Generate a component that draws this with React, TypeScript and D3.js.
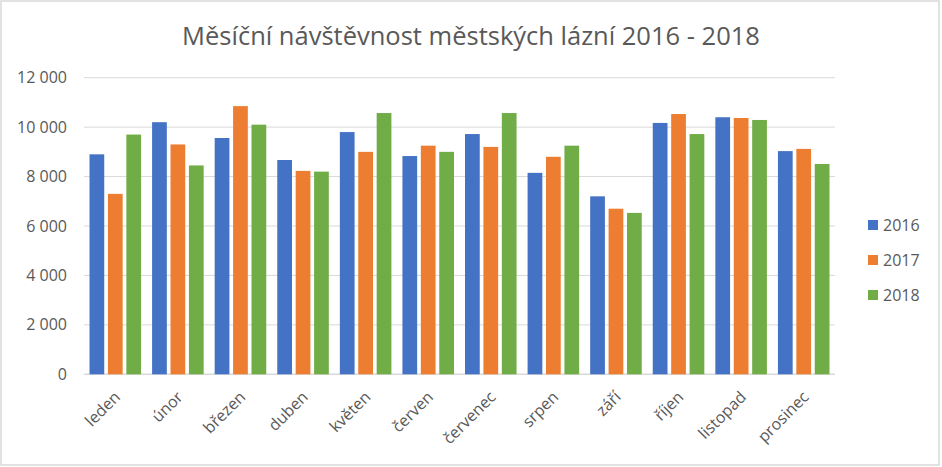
import React from 'react';
import * as d3 from 'd3';

const months = ['leden', 'únor', 'březen', 'duben', 'květen', 'červen', 'červenec', 'srpen', 'září', 'říjen', 'listopad', 'prosinec'];
const years = ['2016', '2017', '2018'];
const visits2016 = [8900, 10200, 9560, 8670, 9800, 8830, 9720, 8150, 7200, 10170, 10400, 9030];
const visits2017 = [7300, 9300, 10850, 8230, 9000, 9250, 9200, 8800, 6700, 10530, 10370, 9120];
const visits2018 = [9700, 8450, 10100, 8200, 10570, 9000, 10570, 9250, 6530, 9720, 10290, 8510];
const yTicks = [0, 2000, 4000, 6000, 8000, 10000, 12000];
const colors = ['#4472c4', '#ed7d31', '#70ad47'];

const W = 942;
const H = 467;
const font = "'Open Sans', 'Noto Sans', sans-serif";

export default function App() {
  const series = [visits2016, visits2017, visits2018];

  const x = d3.scaleBand<string>().domain(months).range([84, 835]).paddingInner(0.176).paddingOuter(0.088);
  const xInner = d3.scaleBand<string>().domain(years).range([0, x.bandwidth()]).paddingInner(0.2);
  const y = d3.scaleLinear().domain([0, 12000]).range([374.3, 77.7]);

  // thousands separated by a space, as in the Czech locale
  const fmt = (v: number) => d3.format(',')(v).replace(/,/g, ' ');

  return (
    <svg width={W} height={H} style={{ position: 'absolute', left: 0, top: 0 }}>
      <rect x={1} y={1} width={W - 4} height={H - 3} fill="#fff" stroke="#d9d9d9" strokeWidth={1.5} />
      <text x={471} y={45} textAnchor="middle" fontFamily={font} fontSize={25.5} fill="#595959">
        Měsíční návštěvnost městských lázní 2016 - 2018
      </text>

      {yTicks.map(t => (
        <g key={t}>
          <line x1={84} x2={835} y1={y(t)} y2={y(t)} stroke="#d9d9d9" strokeWidth={t === 0 ? 1.5 : 1} />
          <text x={67} y={y(t)} dy="0.35em" textAnchor="end" fontFamily={font} fontSize={16} fill="#595959">
            {fmt(t)}
          </text>
        </g>
      ))}

      {months.map((m, i) => (
        <g key={m} transform={`translate(${x(m)},0)`}>
          {series.map((s, j) => (
            <rect key={j} x={xInner(years[j])} y={y(s[i])} width={xInner.bandwidth()} height={y(0) - y(s[i])} fill={colors[j]} />
          ))}
        </g>
      ))}

      {months.map(m => {
        const cx = (x(m) as number) + x.bandwidth() / 2 + 6;
        return (
          <text key={m} transform={`translate(${cx},398) rotate(-45)`} textAnchor="end" fontFamily={font} fontSize={16} fill="#595959">
            {m}
          </text>
        );
      })}

      {years.map((yr, j) => (
        <g key={yr} transform={`translate(868,${225 + j * 35})`}>
          <rect x={0} y={-5} width={10} height={10} fill={colors[j]} />
          <text x={15} y={0} dy="0.35em" fontFamily={font} fontSize={16} fill="#595959">{yr}</text>
        </g>
      ))}
    </svg>
  );
}
